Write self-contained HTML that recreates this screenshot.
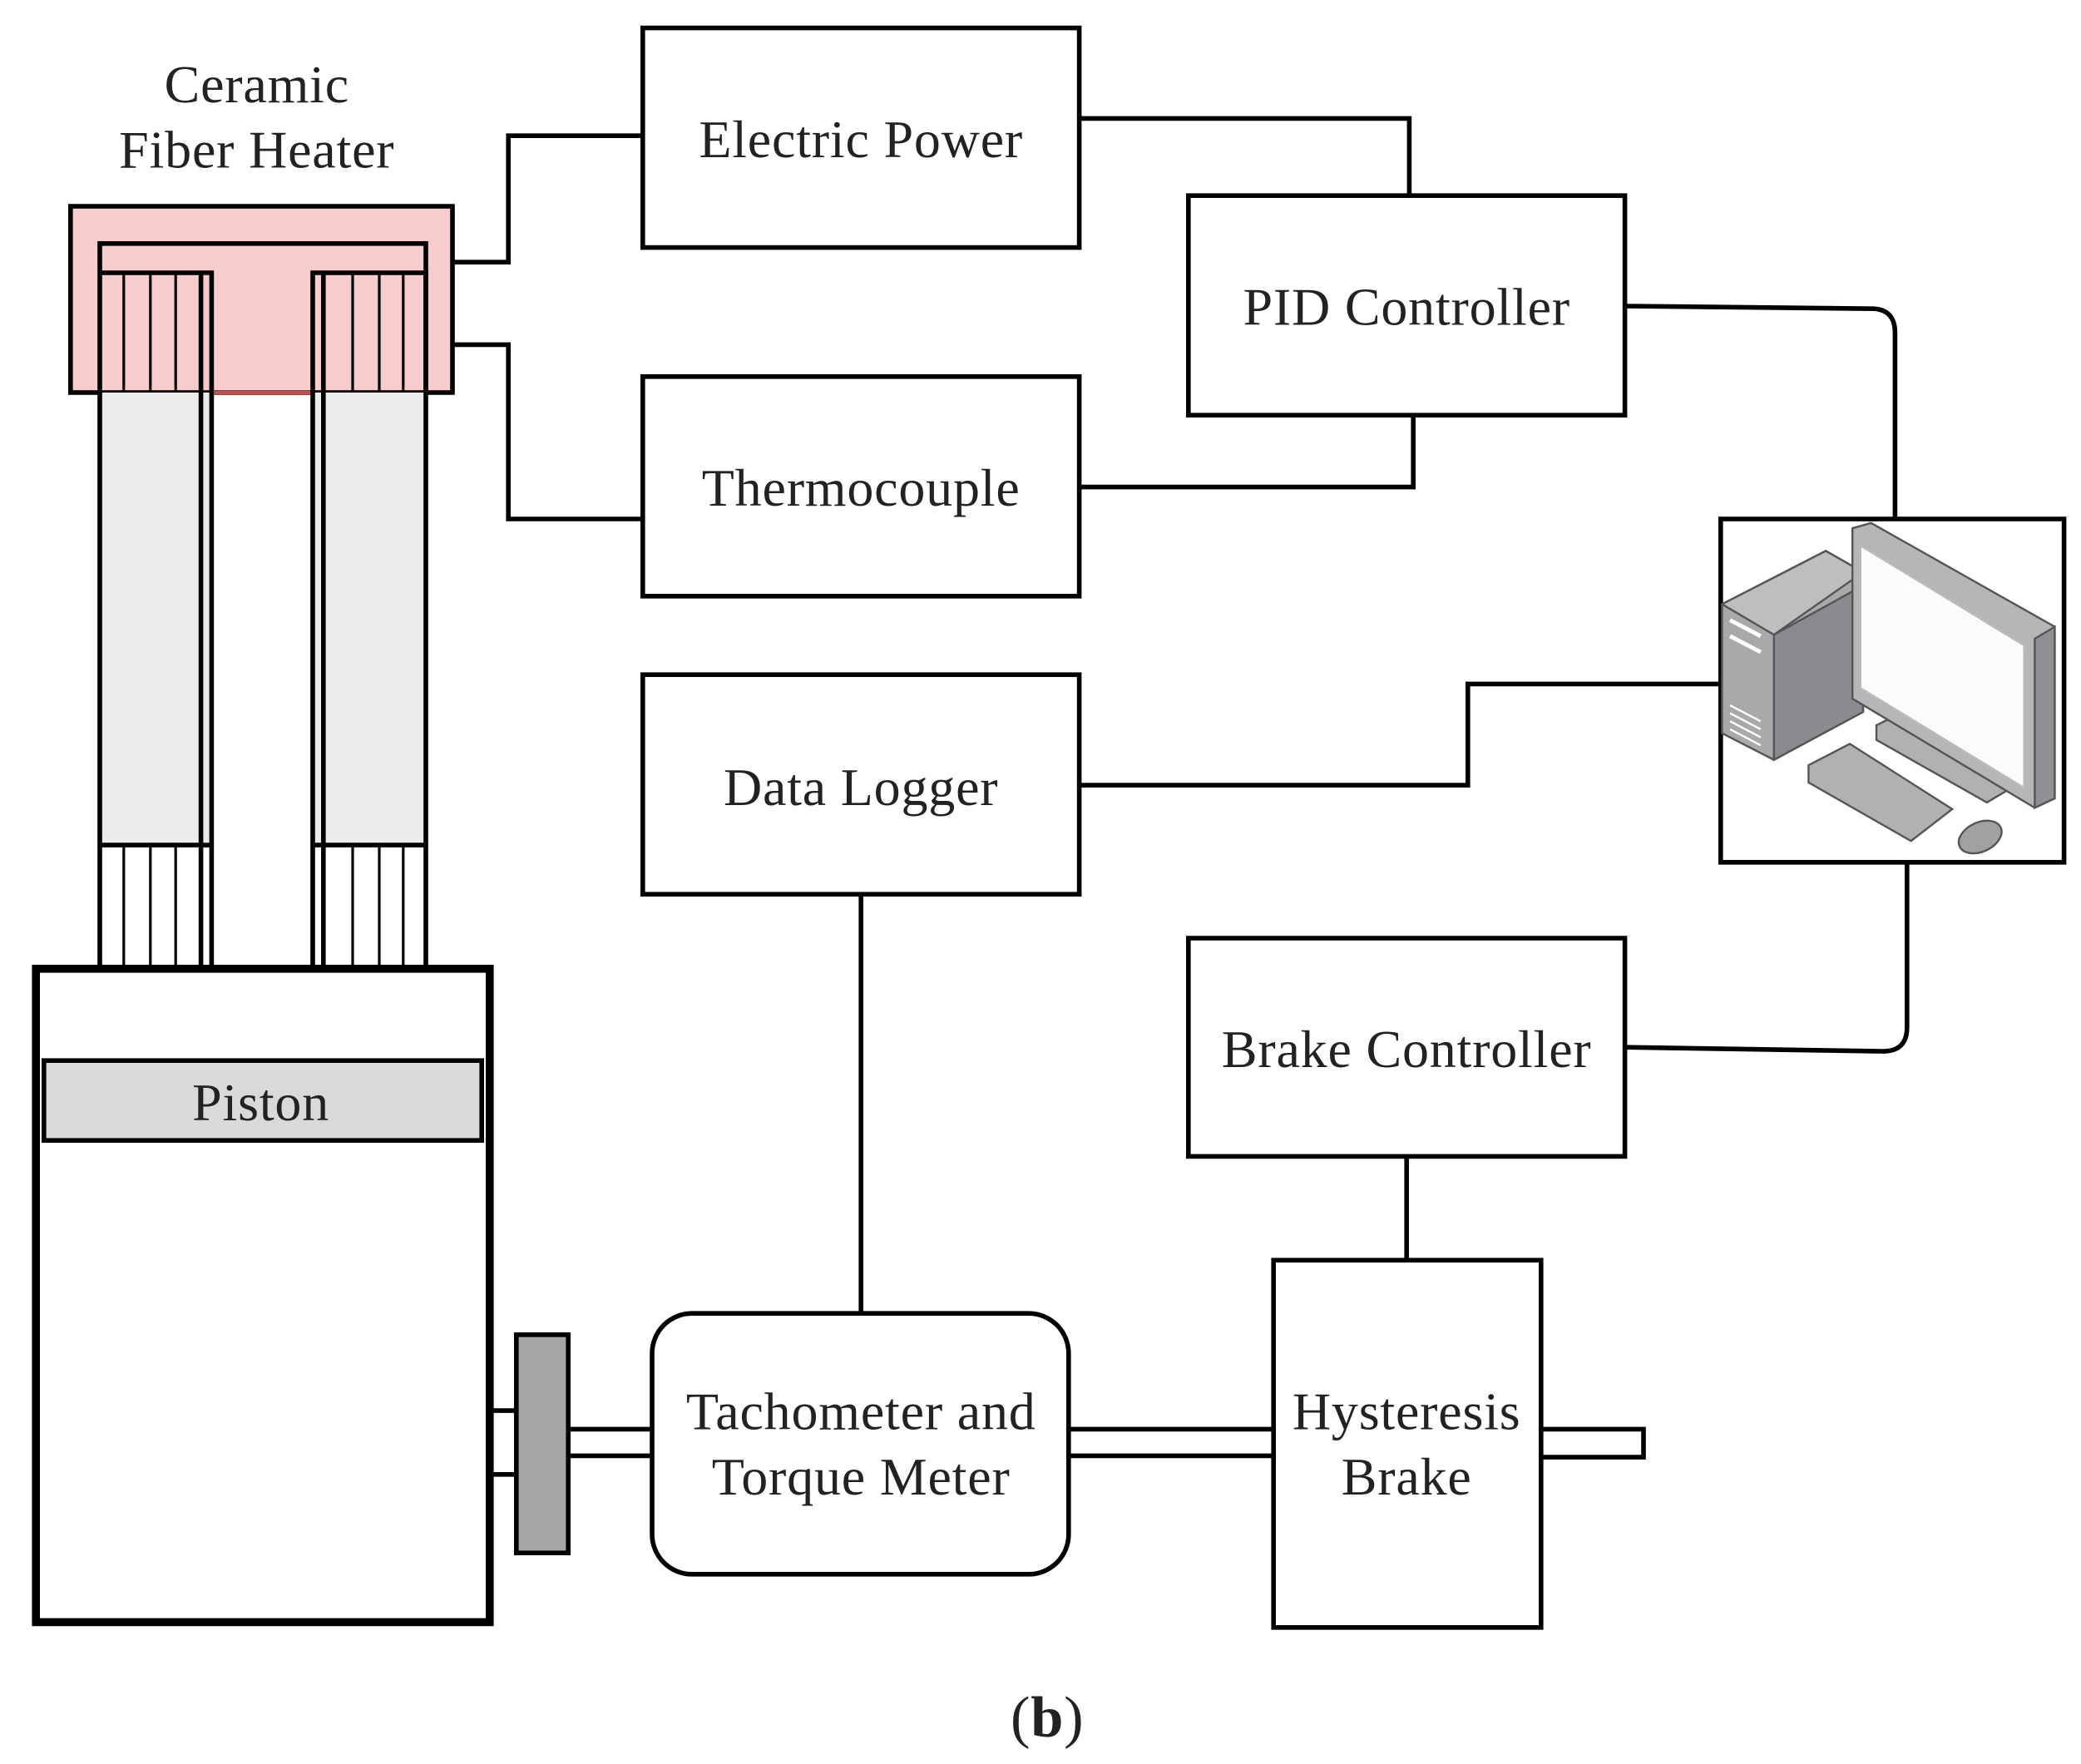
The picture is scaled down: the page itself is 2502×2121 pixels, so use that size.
<!DOCTYPE html>
<html><head><meta charset="utf-8"><style>
html,body{margin:0;padding:0;background:#fff;}
svg{display:block;}
text{font-family:"Liberation Serif",serif;fill:#222;}
</style></head><body>
<svg width="2502" height="2121" viewBox="0 0 1563.75 1325.6" preserveAspectRatio="none" xmlns="http://www.w3.org/2000/svg">
<rect x="0" y="0" width="1563.75" height="1325.6" fill="#fff"/>
<g fill="none" stroke="#000" stroke-width="3.5">
<polyline points="340,197 382,197 382,102 483,102"/>
<polyline points="340,259 382,259 382,390 483,390"/>
<polyline points="811,89 1059,89 1059,147"/>
<polyline points="811,366 1062,366 1062,312"/>
<path d="M1221,230 L1408,232 Q1424,233 1424,250 L1424,390"/>
<polyline points="811,590 1103,590 1103,514 1293,514"/>
<path d="M1433,648 L1433,772 Q1433,790 1415,790 L1221,787"/>
<line x1="647" y1="672" x2="647" y2="987"/>
<line x1="1057" y1="869" x2="1057" y2="947"/>
</g>
<rect x="53" y="155" width="287" height="140" fill="#f6cccc" stroke="#000" stroke-width="3.5"/>
<g stroke="#000" stroke-width="3.5" fill="none">
<polyline points="75,295 75,183 320,183 320,295"/>
</g>
<rect x="75" y="295" width="84" height="340" fill="#ececec"/>
<rect x="235" y="295" width="85" height="340" fill="#ececec"/>
<line x1="159" y1="295" x2="235" y2="295" stroke="#c0504d" stroke-width="3"/>
<g stroke="#000" stroke-width="3.5" fill="none">
<polyline points="75,295 75,725"/>
<polyline points="159,725 159,205 75,205"/>
<polyline points="151,205 151,725"/>
<polyline points="235,725 235,205 320,205 320,725"/>
<polyline points="243,205 243,725"/>
<line x1="75" y1="635" x2="159" y2="635"/>
<line x1="235" y1="635" x2="320" y2="635"/>
</g>
<g stroke="#000" stroke-width="2">
<line x1="93" y1="205" x2="93" y2="295"/><line x1="113" y1="205" x2="113" y2="295"/><line x1="132" y1="205" x2="132" y2="295"/>
<line x1="265" y1="205" x2="265" y2="295"/><line x1="285" y1="205" x2="285" y2="295"/><line x1="303" y1="205" x2="303" y2="295"/>
<line x1="93" y1="635" x2="93" y2="725"/><line x1="113" y1="635" x2="113" y2="725"/><line x1="132" y1="635" x2="132" y2="725"/>
<line x1="265" y1="635" x2="265" y2="725"/><line x1="285" y1="635" x2="285" y2="725"/><line x1="303" y1="635" x2="303" y2="725"/>
</g>
<rect x="27" y="728" width="341" height="491" fill="#fff" stroke="#000" stroke-width="6"/>
<rect x="33" y="797" width="329" height="60" fill="#d9d9d9" stroke="#000" stroke-width="3.5"/>
<g stroke="#000" stroke-width="3.5" fill="none">
<line x1="368" y1="1060" x2="388" y2="1060"/>
<line x1="368" y1="1108" x2="388" y2="1108"/>
<line x1="427" y1="1074" x2="490" y2="1074"/>
<line x1="427" y1="1094" x2="490" y2="1094"/>
<line x1="803" y1="1074" x2="957" y2="1074"/>
<line x1="803" y1="1094" x2="957" y2="1094"/>
<polyline points="1158,1074 1235,1074 1235,1095 1158,1095"/>
</g>
<rect x="388" y="1003" width="39" height="164" fill="#a6a6a6" stroke="#000" stroke-width="3.5"/>
<g fill="#fff" stroke="#000" stroke-width="3.5">
<rect x="483" y="21" width="328" height="165"/>
<rect x="483" y="283" width="328" height="165"/>
<rect x="893" y="147" width="328" height="165"/>
<rect x="483" y="507" width="328" height="165"/>
<rect x="893" y="705" width="328" height="164"/>
<rect x="490" y="987" width="313" height="196" rx="30"/>
<rect x="957" y="947" width="201" height="276"/>
<rect x="1293" y="390" width="258" height="258"/>
</g>
<g stroke="#555" stroke-width="1.5">
<polygon points="1294,454 1372,414 1400,430 1400,535 1333,571 1294,551" fill="#a8a9ab"/>
<polygon points="1294,454 1372,414 1400,430 1333,477" fill="#bdbec0"/>
<polygon points="1333,477 1400,440 1400,535 1333,571" fill="#8a8b8e"/>
<polygon points="1410,545 1420,540 1510,593 1493,603 1410,556" fill="#b0b1b3"/>
<polygon points="1392,397 1406,393 1544,471 1544,600 1529,607 1392,525" fill="#b5b6b8"/>
<polygon points="1529,480 1544,471 1544,600 1529,607" fill="#8f9093"/>
<polygon points="1398,410 1521,485 1521,592 1398,517" fill="#fbfbfb" stroke="#bbb"/>
<polygon points="1359,575 1390,559 1467,608 1436,632 1359,588" fill="#b0b1b3"/>
<ellipse cx="1488" cy="629" rx="17" ry="11" transform="rotate(-25 1488 629)" fill="#a0a1a3"/>
</g>
<g stroke="#fff" stroke-width="3">
<line x1="1300" y1="466" x2="1323" y2="478"/><line x1="1300" y1="478" x2="1323" y2="490"/>
</g>
<g stroke="#fff" stroke-width="1.5">
<line x1="1300" y1="530" x2="1323" y2="542"/><line x1="1300" y1="536" x2="1323" y2="548"/><line x1="1300" y1="542" x2="1323" y2="554"/><line x1="1300" y1="548" x2="1323" y2="560"/>
</g>
<g font-size="40" text-anchor="middle" letter-spacing="0.5">
<text x="193" y="77">Ceramic</text>
<text x="193" y="126">Fiber Heater</text>
<text x="647" y="118">Electric Power</text>
<text x="647" y="380">Thermocouple</text>
<text x="1057" y="244">PID Controller</text>
<text x="647" y="605">Data Logger</text>
<text x="1057" y="802">Brake Controller</text>
<text x="196" y="842">Piston</text>
<text x="647" y="1074">Tachometer and</text>
<text x="647" y="1123">Torque Meter</text>
<text x="1057" y="1074">Hysteresis</text>
<text x="1057" y="1123">Brake</text>
<text x="787" y="1305" font-size="44">(<tspan font-weight="bold">b</tspan>)</text>
</g>
</svg>
</body></html>
